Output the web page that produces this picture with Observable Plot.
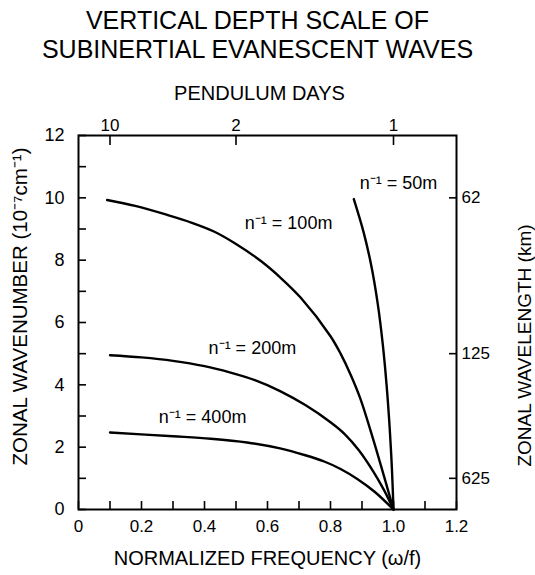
<!DOCTYPE html>
<html>
<head>
<meta charset="utf-8">
<script src="https://cdn.jsdelivr.net/npm/d3@7"></script>
<script src="https://cdn.jsdelivr.net/npm/@observablehq/plot@0.6"></script>
<style>
  html, body { margin: 0; padding: 0; background: #fff; }
</style>
</head>
<body>
<div id="chart"></div>
<script>
// ---- data ----
const titleText = "VERTICAL DEPTH SCALE OF\nSUBINERTIAL EVANESCENT WAVES";
const topAxisTitle = "PENDULUM DAYS";
const xAxisTitle = "NORMALIZED FREQUENCY (ω/f)";
const yAxisTitle = "ZONAL WAVENUMBER (10⁻⁷cm⁻¹)";
const y2AxisTitle = "ZONAL WAVELENGTH (km)";

const xTicks = [0, 0.1, 0.2, 0.3, 0.4, 0.5, 0.6, 0.7, 0.8, 0.9, 1.0, 1.1, 1.2];
const xTickLabels = [0, 0.2, 0.4, 0.6, 0.8, 1.0, 1.2];
const yTicks = [0, 1, 2, 3, 4, 5, 6, 7, 8, 9, 10, 11, 12];
const yTickLabels = [0, 2, 4, 6, 8, 10, 12];
const pendulumAt = [0.1, 0.5, 1.0];
const pendulumLabels = ["10", "2", "1"];
const wavelengthAt = [10, 5, 1];
const wavelengthLabels = ["62", "125", "625"];

const w50 = [0.874, 0.905, 0.93, 0.95, 0.966, 0.978, 0.988, 0.995, 1.0];
const k50 = [9.96, 8.9, 7.8, 6.6, 5.3, 4.0, 2.6, 1.3, 0];
const w100 = [0.091, 0.18, 0.282, 0.36, 0.43, 0.5, 0.578, 0.64, 0.705, 0.8, 0.832, 0.865, 0.895, 0.937, 1.0];
const k100 = [9.93, 9.74, 9.45, 9.2, 8.92, 8.52, 7.98, 7.45, 6.8, 5.56, 5.0, 4.3, 3.55, 2.2, 0];
const w200 = [0.1, 0.2, 0.3, 0.4, 0.48, 0.56, 0.64, 0.72, 0.8, 0.845, 0.89, 0.937, 0.97, 1.0];
const k200 = [4.95, 4.88, 4.77, 4.6, 4.4, 4.15, 3.8, 3.35, 2.8, 2.42, 1.9, 1.2, 0.62, 0];
const w400 = [0.1, 0.3, 0.42, 0.535, 0.64, 0.72, 0.78, 0.832, 0.885, 0.94, 1.0];
const k400 = [2.47, 2.35, 2.27, 2.15, 1.96, 1.74, 1.54, 1.3, 0.98, 0.57, 0];

const curveNames = ["50m", "100m", "200m", "400m"];
const curveW = [w50, w100, w200, w400];
const curveK = [k50, k100, k200, k400];

const labelText = ["n⁻¹ = 50m", "n⁻¹ = 100m", "n⁻¹ = 200m", "n⁻¹ = 400m"];
const labelW = [1.016, 0.667, 0.552, 0.394];
const labelK = [10.48, 9.17, 5.16, 2.95];

// ---- build tables ----
const curves = curveNames.flatMap((name, i) =>
  curveW[i].map((w, j) => ({name, w, k: curveK[i][j]})));
const labels = labelText.map((t, i) => ({t, w: labelW[i], k: labelK[i]}));
const pendMap = new Map(pendulumAt.map((v, i) => [v, pendulumLabels[i]]));
const waveMap = new Map(wavelengthAt.map((v, i) => [v, wavelengthLabels[i]]));

const FONT = "Liberation Sans, Arial, Helvetica, sans-serif";

const chart = Plot.plot({
  width: 535,
  height: 575,
  marginTop: 135,
  marginBottom: 66,
  marginLeft: 78,
  marginRight: 79,
  style: {fontFamily: FONT, fontSize: "16px", color: "#000", background: "#fff"},
  x: {domain: [0, 1.2]},
  y: {domain: [0, 12]},
  marks: [
    // inward tick marks
    Plot.axisX({anchor: "bottom", ticks: xTicks, tickSize: -8, strokeWidth: 1.6, tickFormat: () => "", label: null}),
    Plot.axisX({anchor: "top", ticks: pendulumAt, tickSize: -9, strokeWidth: 1.6, tickFormat: () => "", label: null}),
    Plot.axisY({anchor: "left", ticks: yTicks, tickSize: -8, strokeWidth: 1.6, tickFormat: () => "", label: null}),
    Plot.axisY({anchor: "right", ticks: wavelengthAt, tickSize: -8, strokeWidth: 1.6, tickFormat: () => "", label: null}),
    // tick labels
    Plot.axisX({anchor: "bottom", ticks: xTickLabels, tickSize: 0, tickPadding: 10, fontSize: 17,
      tickFormat: d => d === 0 ? "0" : d.toFixed(1), label: null}),
    Plot.axisX({anchor: "top", ticks: pendulumAt, tickSize: 0, tickPadding: 5, fontSize: 17,
      tickFormat: d => pendMap.get(d), label: null}),
    Plot.axisY({anchor: "left", ticks: yTickLabels, tickSize: 0, tickPadding: 14, fontSize: 18, label: null}),
    Plot.axisY({anchor: "right", ticks: wavelengthAt, tickSize: 0, tickPadding: 5, fontSize: 17,
      tickFormat: d => waveMap.get(d), label: null}),
    Plot.frame({stroke: "#000", strokeWidth: 2}),
    // curves
    Plot.line(curves, {x: "w", y: "k", z: "name", stroke: "#000", strokeWidth: 2.4, curve: "catmull-rom"}),
    Plot.text(labels, {x: "w", y: "k", text: "t", fontSize: 18}),
    // titles
    Plot.text([titleText], {frameAnchor: "top", lineAnchor: "middle", textAnchor: "middle", dx: -10, dy: -101, fontSize: 25, lineHeight: 1.15}),
    Plot.text([topAxisTitle], {frameAnchor: "top", lineAnchor: "middle", textAnchor: "middle", dx: -8, dy: -42, fontSize: 20}),
    Plot.text([xAxisTitle], {frameAnchor: "bottom", lineAnchor: "middle", textAnchor: "middle", dx: 0, dy: 49, fontSize: 20}),
    Plot.text([yAxisTitle], {frameAnchor: "left", lineAnchor: "middle", textAnchor: "middle", dx: -58, dy: -16, rotate: -90, fontSize: 20.5}),
    Plot.text([y2AxisTitle], {frameAnchor: "right", lineAnchor: "middle", textAnchor: "middle", dx: 68, dy: 23, rotate: -90, fontSize: 19})
  ]
});
document.getElementById("chart").appendChild(chart);
</script>
</body>
</html>
